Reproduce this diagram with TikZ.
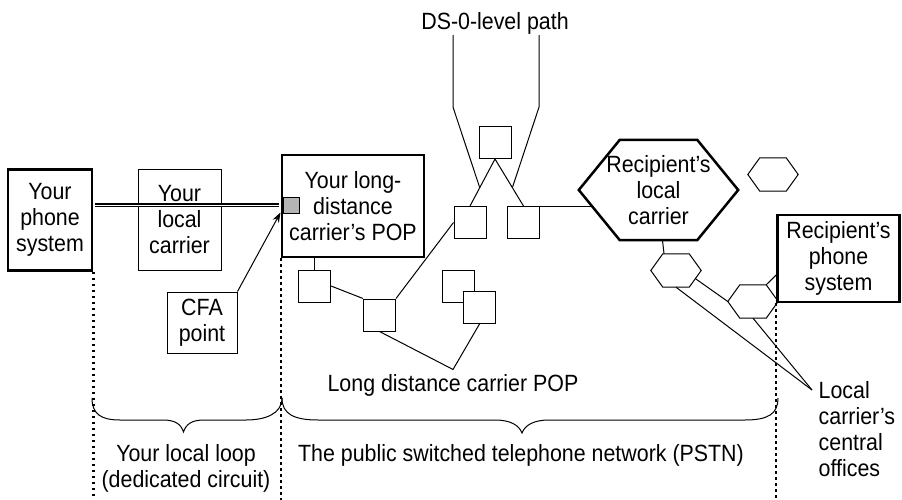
\documentclass[tikz,border=0pt]{standalone}
\usepackage{fontspec}
\setmainfont{Liberation Sans}[FakeStretch=0.91]
\usetikzlibrary{arrows.meta,calc}
\definecolor{cfagray}{RGB}{180,180,180}

% hexagon drawn round the bounding box of a named node
\newcommand\hexaround[3]{%
  \draw[#3] (#1.west) -- ([xshift=#2]#1.north west) -- ([xshift=-#2]#1.north east)
    -- (#1.east) -- ([xshift=-#2]#1.south east) -- ([xshift=#2]#1.south west) -- cycle;}

\begin{document}
\begin{tikzpicture}[x=1pt,y=-1pt,
  every node/.style={font=\fontsize{23.5}{26}\selectfont},
  thickbox/.style={draw, line width=2.6pt, align=center, inner sep=0pt},
  thinbox/.style={draw, line width=1pt, fill=white, align=center, inner sep=0pt},
  sqbox/.style={draw, line width=1pt, fill=white, minimum size=32pt, inner sep=0pt},
  hexnode/.style={inner sep=0pt, align=center},
  lbl/.style={inner sep=0pt, align=center},
  conn/.style={line width=1pt},
  hexthick/.style={line width=2.5pt, line join=miter},
  hexthin/.style={line width=1pt, line join=miter, fill=white},
  dots/.style={line width=2.4pt, dash pattern=on 2.4pt off 3.6pt}]

\useasboundingbox (0,0) rectangle (902,500);
\coordinate (bot) at (0,500);

% left end: your equipment and local loop
\node[thickbox, minimum width=84pt, minimum height=101pt] (yps) at (50,220) {Your\\phone\\system};
\node[thinbox, minimum width=83pt, minimum height=101pt] (ylc) at (179.5,219.5) {Your\\local\\carrier};
\node[thinbox, minimum width=70pt, minimum height=61pt] (cfabox) at (202,322.5) {CFA\\point};

% long-distance point of presence
\node[thickbox, minimum width=142pt, minimum height=102pt] (pop) at (353,206) {Your long-\\distance\\carrier’s POP};
\node[draw, line width=1pt, fill=cfagray, minimum size=16pt, inner sep=0pt] (cfa) at (291.5,205) {};

% dedicated circuit from the phone system to the POP
\draw[line width=1.2pt, double=white, double distance=1pt, shorten <=1.3pt, shorten >=1.3pt]
  (yps.east |- cfa.west) -- (pop.west |- cfa.west);
\draw[conn, -{Stealth[length=10pt,width=7pt]}] (cfabox.north east) -- ([xshift=-2.5pt,yshift=1pt]cfa.south west);

% switches of the long distance network
\node[sqbox] (sqTop) at (495,142.5) {};
\node[sqbox] (sqL) at (470,222.5) {};
\node[sqbox] (sqR) at (523.5,222.5) {};
\node[sqbox] (sqA) at (314.5,286) {};
\node[sqbox] (sqB) at (379.5,315) {};
\node[sqbox] (sqC) at (458.5,286) {};
\node[sqbox] (sqD) at (479.5,307.5) {};

\draw[conn] (sqA.north |- pop.south) -- (sqA.north);
\draw[conn] (sqA.east) -- (sqB.north west);
\draw[conn] (sqB.north east) -- (sqL.west);
\draw[conn] (sqTop.south) -- (sqL.north);
\draw[conn] (sqTop.south) -- (sqR.north);

% DS-0 path label
\node[lbl, anchor=base] (ds0) at (495,30) {DS-0-level path};
\draw[conn] ([xshift=-42pt]ds0.south) -- ++(0,72) -- ($(sqTop.south)!0.61!(sqL.north)$);
\draw[conn] ([xshift=44pt]ds0.south) -- ++(0,72) -- ($(sqTop.south)!0.61!(sqR.north)$);

% long distance carrier POP label
\node[lbl, anchor=base] (ldc) at (453,391.7) {Long distance carrier POP};
\coordinate (ldcV) at ([yshift=5pt]ldc.north);
\draw[conn] (sqB.south) -- (ldcV) -- (sqD.south);

% recipient side
\node[hexnode, minimum width=159pt, minimum height=100pt] (rlc) at (658.5,190) {Recipient’s\\local\\carrier};
\hexaround{rlc}{41pt}{hexthick}
\node[hexnode, minimum width=50pt, minimum height=33pt] (hx1) at (773,174.5) {};
\hexaround{hx1}{12pt}{hexthin}
\node[hexnode, minimum width=50pt, minimum height=33pt] (hx2) at (676,270.5) {};
\hexaround{hx2}{12pt}{hexthin}
\node[hexnode, minimum width=50pt, minimum height=33pt] (hx3) at (753,301.5) {};
\hexaround{hx3}{12pt}{hexthin}
\node[thickbox, minimum width=122pt, minimum height=87pt] (rps) at (838.5,258.5) {Recipient’s\\phone\\system};

\coordinate (rlcIn) at ([xshift=14pt,yshift=-17pt]rlc.west);
\draw[conn] (sqR.north east) -- (sqR.north east -| rlcIn);
\draw[conn] ([xshift=4pt]rlc.south) -- ([xshift=-12pt]hx2.north);
\draw[conn] ([xshift=-6pt,yshift=-8pt]hx2.east) -- (hx3.west);
\draw[conn] ([xshift=-12pt]hx3.north east) -- ([yshift=-16.5pt]rps.west);

% central offices label
\node[lbl, align=left, anchor=north west] (lco) at (818.5,381.2) {Local\\carrier’s\\central\\offices};
\coordinate (lcoPt) at ([xshift=-6.5pt,yshift=-8.8pt]lco.north west);
\draw[conn] (hx2.south) -- (lcoPt);
\draw[conn] (hx3.south) -- (lcoPt);

% section boundaries
\draw[dots] (yps.south east) -- (yps.south east |- bot);
\draw[dots] (pop.south west) -- (pop.south west |- bot);
\draw[dots] (rps.south west) -- (rps.south west |- bot);

% braces
\draw[conn] (92,398) .. controls (92,414) and (101,420) .. (120,420) -- (163,420)
  .. controls (175,420) and (181,424) .. (183.5,432)
  .. controls (186,424) and (192,420) .. (204,420) -- (246,420)
  .. controls (265,420) and (282,414) .. (282,398);
\draw[conn] (282,398) .. controls (282,414) and (294,420) .. (318,420) -- (495,420)
  .. controls (510,420) and (519,425) .. (522,433)
  .. controls (525,425) and (534,420) .. (549,420) -- (745,420)
  .. controls (768,420) and (778,414) .. (778,398);

\node[lbl] (lloop) at (186,468.7) {Your local loop\\(dedicated circuit)};
\node[lbl, anchor=base] (pstn) at (521,461.7) {The public switched telephone network (PSTN)};
\end{tikzpicture}
\end{document}
